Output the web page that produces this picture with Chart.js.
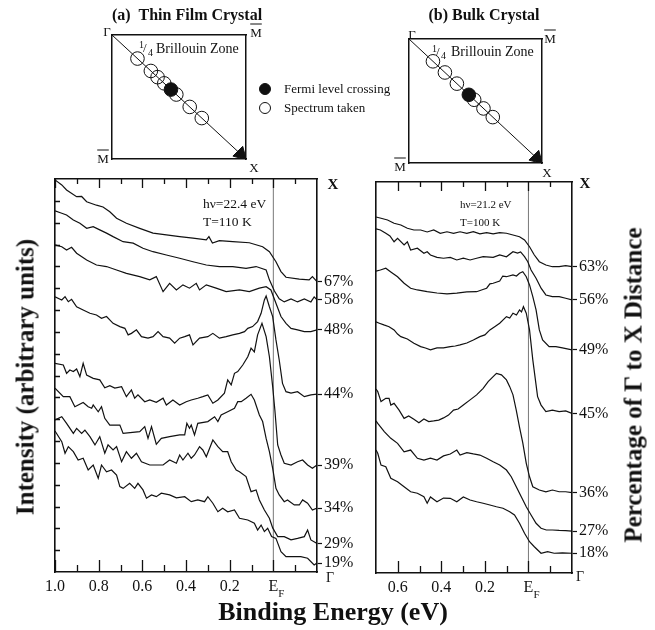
<!DOCTYPE html>
<html>
<head>
<meta charset="utf-8">
<title>Fermi level crossing spectra</title>
<script src="https://cdn.jsdelivr.net/npm/chart.js@4.4.1/dist/chart.umd.min.js"></script>
<style>
  body { margin: 0; background: #fff; }
  #fig { position: relative; width: 655px; height: 630px; overflow: hidden; background: #fff;
         font-family: "Liberation Serif", "Times New Roman", serif; color: #111; }
  #fig canvas { position: absolute; left: 0; top: 0; }
  .t { position: absolute; white-space: nowrap; line-height: 1; }
  .b { font-weight: bold; }
  .mid { transform: translate(-50%, -50%); }
  .rot { transform: translate(-50%, -50%) rotate(-90deg); }
  .ov { text-decoration: overline; }
  .dot { position: absolute; width: 12px; height: 12px; border-radius: 50%;
         box-sizing: border-box; border: 1.2px solid #111; }
</style>
</head>
<body>
<div id="fig">
  <canvas id="filmChart" width="655" height="630"></canvas>
  <canvas id="bulkChart" width="655" height="630"></canvas>
  <canvas id="filmZone" width="655" height="630"></canvas>
  <canvas id="bulkZone" width="655" height="630"></canvas>

  <!-- panel titles -->
  <div class="t b mid" style="left:187px;top:15px;font-size:16px;">(a)&nbsp;&nbsp;Thin Film Crystal</div>
  <div class="t b mid" style="left:484px;top:15px;font-size:16px;">(b) Bulk Crystal</div>

  <!-- zone corners, film -->
  <div class="t mid" style="left:107px;top:31px;font-size:13px;">Γ</div>
  <div class="t mid ov" style="left:256px;top:32px;font-size:13px;">M</div>
  <div class="t mid ov" style="left:103px;top:158px;font-size:13px;">M</div>
  <div class="t mid" style="left:254px;top:167px;font-size:13px;">X</div>
  <div class="t" style="left:139px;top:40px;font-size:10px;">1</div>
  <div class="t" style="left:143px;top:41px;font-size:13px;">/</div>
  <div class="t" style="left:148px;top:48px;font-size:10px;">4</div>
  <div class="t" style="left:156px;top:42px;font-size:14px;">Brillouin Zone</div>

  <!-- zone corners, bulk -->
  <div class="t mid" style="left:412px;top:34px;font-size:13px;">Γ</div>
  <div class="t mid ov" style="left:550px;top:38px;font-size:13px;">M</div>
  <div class="t mid ov" style="left:400px;top:166px;font-size:13px;">M</div>
  <div class="t mid" style="left:547px;top:172px;font-size:13px;">X</div>
  <div class="t" style="left:432px;top:44px;font-size:10px;">1</div>
  <div class="t" style="left:436px;top:45px;font-size:13px;">/</div>
  <div class="t" style="left:441px;top:51px;font-size:10px;">4</div>
  <div class="t" style="left:451px;top:45px;font-size:14px;">Brillouin Zone</div>

  <!-- legend -->
  <div class="dot" style="left:259px;top:83px;background:#111;"></div>
  <div class="dot" style="left:259px;top:102px;"></div>
  <div class="t" style="left:284px;top:82px;font-size:13px;">Fermi level crossing</div>
  <div class="t" style="left:284px;top:101px;font-size:13px;">Spectrum taken</div>

  <!-- measurement notes -->
  <div class="t" style="left:203px;top:197px;font-size:13.5px;">hν=22.4 eV</div>
  <div class="t" style="left:203px;top:215px;font-size:13.5px;">T=110 K</div>
  <div class="t" style="left:460px;top:199px;font-size:11px;">hν=21.2 eV</div>
  <div class="t" style="left:460px;top:217px;font-size:11px;">T=100 K</div>

  <!-- k-point ends of the percentage axes -->
  <div class="t b mid" style="left:333px;top:184px;font-size:15px;">X</div>
  <div class="t mid" style="left:330px;top:578px;font-size:14px;">Γ</div>
  <div class="t b mid" style="left:585px;top:183px;font-size:15px;">X</div>
  <div class="t mid" style="left:580px;top:577px;font-size:14px;">Γ</div>

  <!-- axis titles -->
  <div class="t b rot" style="left:25px;top:377px;font-size:25px;">Intensity (arbitrary units)</div>
  <div class="t b rot" style="left:633px;top:385px;font-size:25px;">Percentage of Γ to X Distance</div>
  <div class="t b mid" style="left:333px;top:612px;font-size:26px;">Binding Energy (eV)</div>
</div>

<script>
// ============================================
// Data: [binding energy (eV), intensity (arb. units)]
// ============================================

// (a) thin film crystal, hv = 22.4 eV
const film67 = [[1.0,17.96],[0.969,17.73],[0.947,17.5],[0.901,17.19],[0.878,17.2],[0.855,16.96],[0.81,16.8],
  [0.78,16.72],[0.749,16.5],[0.718,16.2],[0.673,15.97],[0.612,15.74],[0.551,15.52],[0.49,15.44],[0.429,15.36],
  [0.368,15.29],[0.307,15.21],[0.295,15.36],[0.279,15.07],[0.247,15.18],[0.186,15.13],[0.11,15.08],[0.049,14.9],
  [0.018,14.67],[-0.012,14.21],[-0.035,13.76],[-0.058,13.5],[-0.119,13.41],[-0.164,13.38],[-0.179,13.53],[-0.2,13.3]];
const film58 = [[1.0,16.54],[0.969,16.43],[0.947,16.35],[0.916,16.12],[0.886,15.97],[0.855,15.74],[0.825,15.82],
  [0.795,15.67],[0.764,15.52],[0.734,15.36],[0.688,15.13],[0.642,15.06],[0.597,14.83],[0.551,14.67],[0.49,14.52],
  [0.429,14.37],[0.368,14.21],[0.307,14.06],[0.247,13.99],[0.186,13.99],[0.125,13.91],[0.079,13.99],[0.033,13.83],
  [0.018,13.38],[-0.005,12.87],[-0.027,12.51],[-0.05,12.37],[-0.081,12.51],[-0.111,12.37],[-0.142,12.51],
  [-0.172,12.37],[-0.187,12.6],[-0.2,12.46]];
const film48 = [[1.0,14.98],[0.969,14.9],[0.947,14.75],[0.924,14.87],[0.901,14.6],[0.855,14.29],[0.81,14.06],
  [0.764,13.99],[0.718,13.83],[0.673,13.68],[0.612,13.53],[0.566,13.38],[0.536,13.53],[0.505,12.84],[0.475,13.22],
  [0.444,12.92],[0.414,13.15],[0.384,13.0],[0.353,13.22],[0.338,12.92],[0.307,13.15],[0.262,13.0],[0.216,12.84],
  [0.155,12.92],[0.11,12.84],[0.064,13.0],[0.033,13.07],[0.011,12.92],[-0.012,12.31],[-0.035,11.7],[-0.058,11.39],
  [-0.081,11.16],[-0.111,11.09],[-0.142,11.01],[-0.172,11.01],[-0.2,11.09]];
const film44 = [[1.0,12.6],[0.969,12.46],[0.954,12.61],[0.939,12.38],[0.924,12.49],[0.901,12.15],[0.871,12.0],
  [0.84,11.85],[0.81,11.77],[0.787,11.62],[0.764,11.7],[0.734,11.39],[0.703,11.24],[0.68,11.16],[0.665,10.86],
  [0.65,10.93],[0.627,11.09],[0.604,10.78],[0.574,10.71],[0.551,10.78],[0.528,11.01],[0.505,10.78],[0.475,10.71],
  [0.452,10.48],[0.429,10.71],[0.406,10.78],[0.384,10.86],[0.368,10.4],[0.338,10.71],[0.3,10.78],[0.277,10.93],
  [0.247,10.71],[0.216,10.78],[0.186,10.86],[0.155,10.93],[0.132,11.01],[0.117,11.16],[0.095,11.24],[0.072,11.47],
  [0.056,11.85],[0.041,12.46],[0.033,12.64],[0.018,12.15],[0.003,11.7],[-0.012,10.63],[-0.027,9.71],[-0.042,8.64],
  [-0.058,8.26],[-0.081,8.19],[-0.111,8.26],[-0.142,8.03],[-0.172,8.11],[-0.2,8.15]];
const film39 = [[1.0,9.56],[0.962,9.48],[0.947,9.1],[0.932,9.25],[0.916,9.18],[0.901,9.3],[0.886,8.95],[0.871,9.56],
  [0.855,9.02],[0.825,8.87],[0.795,8.8],[0.772,8.44],[0.749,8.53],[0.726,8.42],[0.695,8.49],[0.673,8.03],[0.65,8.34],
  [0.635,7.96],[0.62,8.11],[0.589,7.8],[0.566,7.88],[0.536,7.77],[0.505,7.96],[0.49,7.65],[0.46,7.88],[0.429,7.65],
  [0.399,7.8],[0.376,7.88],[0.346,7.96],[0.323,8.03],[0.3,8.11],[0.277,7.73],[0.254,7.88],[0.224,8.19],[0.209,8.8],
  [0.193,8.57],[0.178,9.1],[0.163,9.18],[0.14,9.48],[0.117,9.86],[0.102,10.25],[0.087,10.08],[0.072,10.86],
  [0.052,11.39],[0.033,10.78],[0.018,9.86],[0.003,8.49],[-0.007,7.42],[-0.02,5.82],[-0.035,5.36],[-0.05,4.98],
  [-0.081,4.9],[-0.111,5.05],[-0.134,5.13],[-0.157,4.9],[-0.179,4.75],[-0.2,4.9]];
const film34 = [[1.0,8.42],[0.962,8.03],[0.932,8.03],[0.909,7.57],[0.871,7.76],[0.848,7.57],[0.832,7.5],[0.825,7.65],
  [0.802,7.34],[0.787,7.57],[0.772,7.04],[0.749,6.73],[0.703,6.73],[0.688,6.35],[0.612,6.43],[0.589,6.66],
  [0.574,6.12],[0.558,6.66],[0.536,5.85],[0.513,6.12],[0.475,6.2],[0.429,6.28],[0.406,6.28],[0.396,6.81],
  [0.384,6.58],[0.376,6.73],[0.361,6.28],[0.346,6.81],[0.3,6.89],[0.269,7.11],[0.254,6.89],[0.239,7.19],
  [0.209,7.34],[0.178,7.5],[0.163,7.8],[0.147,7.8],[0.125,7.96],[0.102,8.14],[0.087,7.88],[0.064,7.19],
  [0.049,6.89],[0.033,6.12],[0.018,5.51],[0.003,4.75],[-0.012,3.83],[-0.027,3.53],[-0.05,3.22],[-0.065,3.3],
  [-0.096,3.07],[-0.119,3.07],[-0.134,3.3],[-0.157,3.15],[-0.179,2.84],[-0.2,2.93]];
const film29 = [[1.0,6.96],[0.969,7.11],[0.947,6.81],[0.916,6.35],[0.901,6.58],[0.878,6.35],[0.863,6.5],[0.84,6.2],
  [0.817,5.82],[0.795,6.2],[0.772,5.44],[0.757,5.82],[0.734,5.59],[0.718,5.74],[0.695,5.05],[0.673,5.51],
  [0.65,5.21],[0.627,5.44],[0.604,5.05],[0.566,4.9],[0.505,4.9],[0.475,5.13],[0.444,4.98],[0.429,5.36],
  [0.414,5.13],[0.391,5.44],[0.376,5.21],[0.361,5.36],[0.338,5.74],[0.323,5.59],[0.307,5.28],[0.277,6.05],
  [0.254,5.74],[0.232,5.51],[0.209,5.51],[0.193,5.05],[0.17,4.67],[0.155,4.59],[0.125,4.37],[0.102,3.68],
  [0.079,3.76],[0.064,3.3],[0.041,2.84],[0.018,2.46],[0.003,2.02],[-0.02,1.62],[-0.05,1.62],[-0.081,1.47],
  [-0.111,1.54],[-0.142,1.62],[-0.157,1.92],[-0.172,1.47],[-0.2,1.31]];
const film19 = [[1.0,6.46],[0.969,5.97],[0.954,5.44],[0.939,5.74],[0.916,5.51],[0.894,5.13],[0.871,5.21],[0.848,4.67],
  [0.825,4.9],[0.802,4.29],[0.787,4.9],[0.764,4.59],[0.741,4.67],[0.718,4.44],[0.703,3.91],[0.688,3.83],
  [0.658,4.06],[0.635,3.83],[0.62,4.06],[0.597,3.76],[0.581,3.38],[0.558,3.53],[0.536,3.45],[0.513,3.61],
  [0.475,3.53],[0.444,3.4],[0.406,3.45],[0.376,3.22],[0.346,3.3],[0.315,3.22],[0.3,3.45],[0.277,3.15],
  [0.254,2.76],[0.232,2.92],[0.209,2.76],[0.178,2.84],[0.155,2.46],[0.117,2.38],[0.087,2.23],[0.072,1.92],
  [0.056,2.15],[0.041,1.85],[0.026,2.0],[0.008,1.62],[-0.012,1.54],[-0.035,0.93],[-0.058,0.7],[-0.081,0.7],
  [-0.126,0.7],[-0.157,0.63],[-0.187,0.32],[-0.2,0.41]];

// (b) bulk crystal, hv = 21.2 eV
const bulk63 = [[0.7,16.39],[0.677,16.33],[0.647,16.25],[0.617,16.1],[0.586,16.02],[0.556,15.87],[0.526,15.79],
  [0.495,15.79],[0.465,15.7],[0.435,15.79],[0.405,15.64],[0.374,15.71],[0.344,15.64],[0.314,15.71],[0.283,15.64],
  [0.253,15.71],[0.223,15.61],[0.192,15.67],[0.162,15.61],[0.132,15.67],[0.101,15.64],[0.071,15.56],[0.041,15.48],
  [0.018,15.33],[-0.005,15.02],[-0.027,14.64],[-0.05,14.33],[-0.08,14.18],[-0.11,14.1],[-0.141,14.1],
  [-0.171,14.15],[-0.2,14.1]];
const bulk56 = [[0.7,15.84],[0.68,15.79],[0.655,15.64],[0.636,15.52],[0.617,15.25],[0.601,15.41],[0.571,15.1],
  [0.556,15.25],[0.541,14.87],[0.51,14.95],[0.48,14.72],[0.465,14.79],[0.45,14.64],[0.42,14.53],[0.39,14.49],
  [0.359,14.53],[0.329,14.41],[0.299,14.49],[0.268,14.41],[0.238,14.49],[0.208,14.56],[0.162,14.53],[0.132,14.64],
  [0.101,14.56],[0.071,14.79],[0.05,14.73],[0.036,14.78],[0.018,14.56],[0.003,14.33],[-0.012,13.95],[-0.035,13.57],
  [-0.058,13.11],[-0.08,12.8],[-0.11,12.72],[-0.141,12.72],[-0.171,12.65],[-0.2,12.57]];
const bulk49 = [[0.7,13.9],[0.68,13.95],[0.655,14.03],[0.632,13.86],[0.601,13.64],[0.571,13.34],[0.541,13.11],
  [0.51,13.03],[0.465,12.95],[0.42,12.89],[0.374,12.85],[0.329,12.88],[0.283,12.94],[0.238,12.95],[0.209,13.05],
  [0.192,13.11],[0.177,13.31],[0.162,13.34],[0.132,13.44],[0.118,13.67],[0.101,13.64],[0.071,13.72],[0.055,13.67],
  [0.041,13.8],[0.026,13.87],[0.01,13.64],[-0.005,13.26],[-0.02,12.72],[-0.035,12.11],[-0.05,11.19],[-0.065,10.73],
  [-0.095,10.42],[-0.126,10.42],[-0.156,10.36],[-0.2,10.27]];
const bulk45 = [[0.7,11.56],[0.685,11.5],[0.664,11.42],[0.64,11.34],[0.617,11.19],[0.601,11.0],[0.586,10.88],
  [0.556,10.77],[0.526,10.58],[0.495,10.42],[0.473,10.36],[0.45,10.27],[0.42,10.36],[0.39,10.36],[0.359,10.42],
  [0.336,10.45],[0.314,10.5],[0.283,10.59],[0.253,10.73],[0.223,10.88],[0.2,10.96],[0.177,11.19],[0.155,11.34],
  [0.132,11.5],[0.101,11.8],[0.086,11.74],[0.071,11.96],[0.055,11.88],[0.041,12.11],[0.032,12.02],[0.023,12.26],
  [0.01,11.96],[-0.005,11.19],[-0.02,9.81],[-0.042,8.12],[-0.058,7.73],[-0.08,7.43],[-0.11,7.5],[-0.141,7.43],
  [-0.171,7.46],[-0.2,7.35]];
const bulk36 = [[0.7,8.47],[0.692,8.35],[0.677,7.89],[0.655,8.04],[0.64,8.04],[0.632,7.73],[0.617,7.81],[0.594,7.5],
  [0.571,7.12],[0.55,7.23],[0.526,7.08],[0.503,6.92],[0.48,7.09],[0.458,6.97],[0.435,7.0],[0.412,7.04],[0.39,7.14],
  [0.367,7.27],[0.344,7.5],[0.323,7.55],[0.299,7.73],[0.268,7.97],[0.238,8.2],[0.208,8.5],[0.185,8.81],[0.162,9.04],
  [0.147,9.19],[0.124,9.12],[0.101,8.89],[0.086,8.58],[0.071,8.2],[0.056,7.5],[0.041,6.72],[0.026,5.99],[0.01,5.05],
  [-0.005,4.43],[-0.02,3.97],[-0.05,3.82],[-0.08,3.74],[-0.11,3.82],[-0.141,3.74],[-0.171,3.74],[-0.2,3.7]];
const bulk27 = [[0.7,7.0],[0.692,6.89],[0.662,6.51],[0.632,6.2],[0.601,5.97],[0.571,5.58],[0.541,5.66],[0.51,5.28],
  [0.48,5.2],[0.45,5.29],[0.42,5.2],[0.39,5.39],[0.359,5.48],[0.329,5.66],[0.314,5.43],[0.283,5.54],[0.253,5.48],
  [0.223,5.43],[0.192,5.28],[0.162,5.12],[0.132,4.97],[0.101,4.74],[0.079,4.43],[0.056,3.97],[0.033,3.51],
  [0.01,3.05],[-0.012,2.67],[-0.035,2.29],[-0.058,2.06],[-0.082,1.98],[-0.11,1.98],[-0.141,1.96],[-0.171,1.95],
  [-0.2,1.93]];
const bulk18 = [[0.7,5.66],[0.692,5.51],[0.677,4.97],[0.655,4.89],[0.632,4.36],[0.601,4.2],[0.571,3.97],[0.541,3.74],
  [0.51,3.67],[0.48,3.51],[0.465,3.21],[0.45,3.5],[0.42,3.28],[0.39,3.45],[0.359,3.44],[0.329,3.28],[0.299,3.5],
  [0.268,3.36],[0.238,3.28],[0.208,3.21],[0.177,3.13],[0.147,3.05],[0.117,2.98],[0.086,2.82],[0.064,2.67],
  [0.041,2.29],[0.018,1.83],[-0.005,1.44],[-0.027,1.21],[-0.058,0.91],[-0.088,0.98],[-0.118,0.91],[-0.156,0.93],
  [-0.2,0.91]];

const filmSeries = [film67, film58, film48, film44, film39, film34, film29, film19];
const bulkSeries = [bulk63, bulk56, bulk49, bulk45, bulk36, bulk27, bulk18];
const filmPct = ['67%', '58%', '48%', '44%', '39%', '34%', '29%', '19%'];
const bulkPct = ['63%', '56%', '49%', '45%', '36%', '27%', '18%'];

// energy axis ticks (eV)
const filmRange = [-0.2, 1.0];
const bulkRange = [-0.2, 0.7];
const filmLabels = [1.0, 0.8, 0.6, 0.4, 0.2, 0];
const bulkLabels = [0.6, 0.4, 0.2, 0];
const filmMinor = [0.9, 0.7, 0.5, 0.3, 0.1, -0.1];
const bulkMinor = [0.5, 0.3, 0.1, -0.1];
const intensityTicks = [1, 2, 3, 4, 5, 6, 7, 8, 9, 10, 11, 12, 13, 14, 15, 16, 17];

// where along Γ-X the spectra were taken (% of distance)
const filmSpots = [19, 29, 34, 39, 44, 48, 58, 67];
const bulkSpots = [18, 27, 36, 45, 49, 56, 63];
const filmFermi = 44;
const bulkFermi = 45;
const arrowTip = 0.96;

// ============================================
// Helpers
// ============================================

const serif = '"Liberation Serif", "Times New Roman", serif';
Chart.defaults.font.family = serif;
Chart.defaults.color = '#111';

// force a scale box to a fixed size so the plot frame lands where we want it
function fixSize(n) {
  return scale => {
    if (scale.isHorizontal()) scale.height = n; else scale.width = n;
  };
}
const noSize = fixSize(0);
const LABEL_BAND = 30;   // room for the energy labels under the frame
const PCT_BAND = 50;     // room for the percentage labels right of the frame

const frameBorder = { display: true, color: '#111', width: 1.6 };
const noGrid = { drawOnChartArea: false, drawTicks: false };

// inward tick marks on the frame, plus the subscript of E_F
const frameTicks = {
  id: 'frameTicks',
  afterDatasetsDraw(chart, args, o) {
    const { ctx, chartArea: a } = chart;
    const xs = chart.scales.x, ys = chart.scales.y;
    ctx.save();
    ctx.strokeStyle = '#111';
    ctx.lineWidth = 1.3;
    ctx.beginPath();
    const mark = (vals, lenBottom, lenTop) => vals.forEach(v => {
      const px = Math.round(xs.getPixelForValue(v)) + 0.5;
      ctx.moveTo(px, a.bottom); ctx.lineTo(px, a.bottom - lenBottom);
      ctx.moveTo(px, a.top); ctx.lineTo(px, a.top + lenTop);
    });
    mark(o.major, 12, 9);
    mark(o.minor, 7, 5);
    (o.left || []).forEach(v => {
      const py = Math.round(ys.getPixelForValue(v)) + 0.5;
      ctx.moveTo(a.left, py); ctx.lineTo(a.left + 5, py);
    });
    ctx.stroke();
    const ef = xs.getPixelForValue(0);
    ctx.fillStyle = '#111';
    ctx.font = '11px ' + serif;
    ctx.textAlign = 'left';
    ctx.textBaseline = 'alphabetic';
    ctx.fillText('F', ef + 5, a.bottom + 25);
    ctx.restore();
  }
};

function spectraChart(id, series, pct, range, labels, ticks, pad) {
  const ends = series.map(s => s[s.length - 1][1]);
  const datasets = series.map(s => ({
    data: s.map(([e, v]) => ({ x: e, y: v })),
    showLine: true, borderColor: '#111', borderWidth: 1.2, pointRadius: 0,
    xAxisID: 'x', yAxisID: 'y'
  }));
  // Fermi level
  datasets.push({
    data: [{ x: 0, y: 0 }, { x: 0, y: 18 }],
    showLine: true, borderColor: '#555', borderWidth: 0.8, pointRadius: 0,
    xAxisID: 'x', yAxisID: 'y'
  });

  return new Chart(document.getElementById(id), {
    type: 'scatter',
    data: { datasets },
    options: {
      responsive: false, animation: false, events: [],
      layout: { padding: pad },
      plugins: { legend: { display: false }, tooltip: { enabled: false }, frameTicks: ticks },
      scales: {
        x: {
          type: 'linear', position: 'bottom', reverse: true, min: range[0], max: range[1],
          afterBuildTicks: s => { s.ticks = labels.map(v => ({ value: v })); },
          afterFit: fixSize(LABEL_BAND),
          ticks: { autoSkip: false, maxRotation: 0, padding: 5, font: { size: 16 }, color: '#111',
                   callback: v => v === 0 ? 'E' : v.toFixed(1) },
          grid: noGrid, border: frameBorder
        },
        xTop: {
          type: 'linear', position: 'top', reverse: true, min: range[0], max: range[1],
          afterFit: noSize, ticks: { display: false }, grid: noGrid, border: frameBorder
        },
        y: {
          type: 'linear', position: 'left', min: 0, max: 18,
          afterFit: noSize, ticks: { display: false }, grid: noGrid, border: frameBorder
        },
        yEnd: {
          type: 'linear', position: 'right', min: 0, max: 18,
          afterBuildTicks: s => { s.ticks = ends.map(v => ({ value: v })); },
          afterFit: fixSize(PCT_BAND),
          ticks: { autoSkip: false, padding: 2, font: { size: 16 }, color: '#111',
                   callback: v => pct[ends.indexOf(v)] },
          grid: { drawOnChartArea: false, drawTicks: true, tickLength: 5, tickColor: '#111', tickWidth: 1.2 },
          border: frameBorder
        }
      }
    },
    plugins: [frameTicks]
  });
}

function zoneChart(id, spots, fermi, pad) {
  const open = spots.filter(p => p !== fermi).map(p => ({ x: p / 100, y: p / 100 }));
  const edge = { display: true, color: '#111', width: 1.5 };
  const blank = { afterFit: noSize, ticks: { display: false }, grid: noGrid, border: edge };
  return new Chart(document.getElementById(id), {
    type: 'scatter',
    data: {
      datasets: [
        { data: [{ x: 0, y: 0 }, { x: 1, y: 1 }], showLine: true, borderColor: '#111', borderWidth: 1, pointRadius: 0 },
        { data: [{ x: arrowTip, y: arrowTip }], pointStyle: 'triangle', pointRotation: 135, pointRadius: 8,
          pointBackgroundColor: '#111', pointBorderColor: '#111', pointBorderWidth: 1 },
        { data: open, pointRadius: 6.8, pointBorderWidth: 1, pointBorderColor: '#111',
          pointBackgroundColor: 'rgba(0,0,0,0)' },
        { data: [{ x: fermi / 100, y: fermi / 100 }], pointRadius: 6.8, pointBorderWidth: 1,
          pointBorderColor: '#111', pointBackgroundColor: '#111' }
      ]
    },
    options: {
      responsive: false, animation: false, events: [],
      layout: { padding: pad },
      plugins: { legend: { display: false }, tooltip: { enabled: false } },
      scales: {
        x: Object.assign({ type: 'linear', position: 'bottom', min: 0, max: 1 }, blank),
        xTop: Object.assign({ type: 'linear', position: 'top', min: 0, max: 1 }, blank),
        y: Object.assign({ type: 'linear', position: 'left', min: 0, max: 1, reverse: true }, blank),
        yRight: Object.assign({ type: 'linear', position: 'right', min: 0, max: 1, reverse: true }, blank)
      }
    }
  });
}

// ============================================
// Build
// ============================================

spectraChart('filmChart', filmSeries, filmPct, filmRange, filmLabels,
  { major: filmLabels, minor: filmMinor, left: intensityTicks },
  { left: 55, top: 179, right: 338 - PCT_BAND, bottom: 58 - LABEL_BAND });
spectraChart('bulkChart', bulkSeries, bulkPct, bulkRange, bulkLabels,
  { major: bulkLabels, minor: bulkMinor },
  { left: 376, top: 182, right: 83 - PCT_BAND, bottom: 57 - LABEL_BAND });
zoneChart('filmZone', filmSpots, filmFermi, { left: 112, top: 35, right: 409, bottom: 471 });
zoneChart('bulkZone', bulkSpots, bulkFermi, { left: 409, top: 39, right: 113, bottom: 467 });
</script>
</body>
</html>
